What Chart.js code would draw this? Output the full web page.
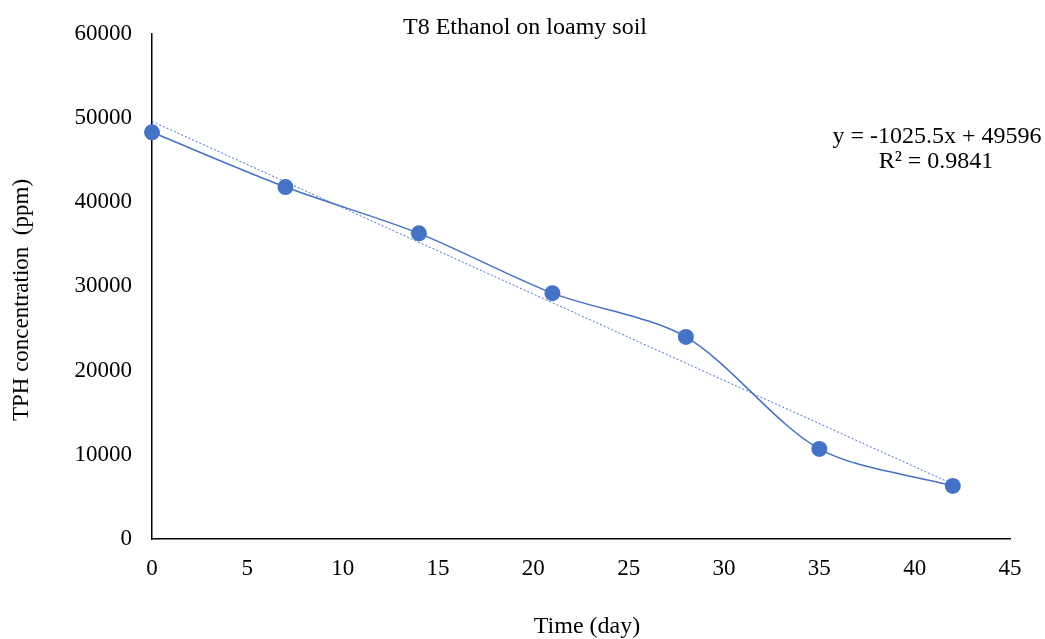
<!DOCTYPE html>
<html>
<head>
<meta charset="utf-8">
<script src="https://cdn.jsdelivr.net/npm/chart.js@4.4.1/dist/chart.umd.min.js"></script>
<style>
  html, body { margin: 0; padding: 0; background: #fff; }
  #wrap { width: 1045px; height: 639px; position: relative; }
</style>
</head>
<body>
<div id="wrap"><canvas id="grafica"></canvas></div>
<script>
// data
var dias = [0, 7, 14, 21, 28, 35, 42];
var tph = [48300, 41800, 36300, 29200, 24000, 10700, 6300];
var pendiente = -1025.5;
var intercepto = 49596;
var ecuacion = ["y = -1025.5x + 49596", "R\u00b2 = 0.9841"];
var titulo = "T8 Ethanol on loamy soil";
var tituloX = "Time (day)";
var tituloY = "TPH concentration  (ppm)";

var fuente = "'Liberation Serif', 'Times New Roman', serif";
var azul = "#4472C4";

var puntos = dias.map(function (d, i) { return { x: d, y: tph[i] }; });
var tendencia = [dias[0], dias[dias.length - 1]].map(function (d) {
  return { x: d, y: pendiente * d + intercepto };
});

var textos = {
  id: "textos",
  afterDraw: function (chart) {
    var c = chart.ctx;
    c.save();
    c.fillStyle = "#000";
    c.textBaseline = "middle";
    c.textAlign = "center";
    c.font = "24px " + fuente;
    c.fillText(titulo, 525, 28);
    c.fillText(ecuacion[0], 937, 137);
    c.fillText(ecuacion[1], 936, 162);
    c.fillText(tituloX, 587, 627);
    // titulo del eje y
    c.translate(22, 300);
    c.rotate(-Math.PI / 2);
    c.font = "23px " + fuente;
    c.fillText(tituloY, 0, 0);
    c.restore();
  }
};

var graficacontexto = document.getElementById("grafica");
var grafica = new Chart(graficacontexto, {
  type: "scatter",
  data: {
    datasets: [{
      label: "TPH",
      data: puntos,
      showLine: true,
      tension: 0.3,
      clip: false,
      borderColor: azul,
      borderWidth: 1.5,
      backgroundColor: azul,
      pointRadius: 8,
      pointHoverRadius: 8,
      pointBorderWidth: 0
    }, {
      label: "Tendencia",
      data: tendencia,
      showLine: true,
      borderColor: azul,
      borderWidth: 1,
      borderDash: [2, 2],
      pointRadius: 0,
      fill: false
    }]
  },
  options: {
    responsive: true,
    maintainAspectRatio: false,
    animation: false,
    layout: { padding: { left: 0, right: 35, top: 31, bottom: 0 } },
    plugins: {
      legend: { display: false },
      tooltip: { enabled: false }
    },
    scales: {
      x: {
        type: "linear",
        min: 0,
        max: 45,
        ticks: { stepSize: 5, color: "#000", padding: 16, font: { family: fuente, size: 23 } },
        grid: { display: false, drawTicks: false },
        border: { display: true, color: "#000", width: 1.5 },
        afterFit: function (s) { s.height = 100; }
      },
      y: {
        min: 0,
        max: 60000,
        ticks: {
          stepSize: 10000, color: "#000", padding: 20, font: { family: fuente, size: 23 },
          callback: function (v) { return String(v); }
        },
        grid: { display: false, drawTicks: false },
        border: { display: true, color: "#000", width: 1.5 },
        afterFit: function (s) { s.width = 152; }
      }
    }
  },
  plugins: [textos]
});
</script>
</body>
</html>
